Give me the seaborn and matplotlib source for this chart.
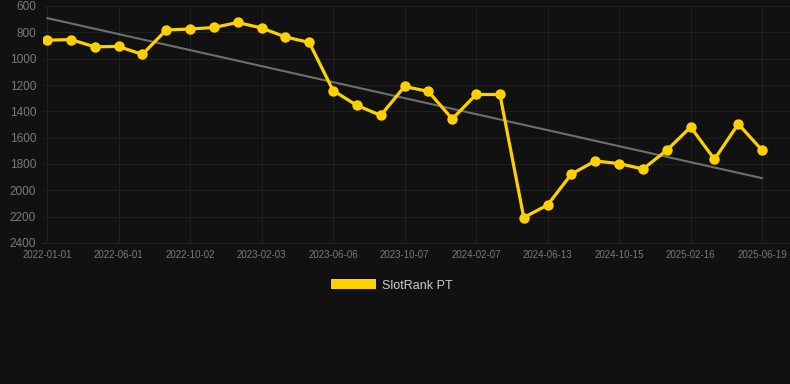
import numpy as np
import pandas as pd
import seaborn as sns
import matplotlib.pyplot as plt
from matplotlib.patches import Patch

# --- data ---
dates = ['2022-01-01', '2022-02-20', '2022-04-11', '2022-06-01', '2022-07-12', '2022-08-22',
         '2022-10-02', '2022-11-13', '2022-12-24', '2023-02-03', '2023-03-16', '2023-04-26',
         '2023-06-06', '2023-07-17', '2023-08-27', '2023-10-07', '2023-11-17', '2023-12-28',
         '2024-02-07', '2024-03-19', '2024-05-02', '2024-06-13', '2024-07-24', '2024-09-04',
         '2024-10-15', '2024-11-25', '2025-01-06', '2025-02-16', '2025-03-29', '2025-05-09',
         '2025-06-19']
rank = [860, 855, 910, 907, 968, 782, 775, 763, 725, 767, 835, 877,
        1242, 1355, 1431, 1211, 1249, 1458, 1272, 1272, 2207, 2111, 1876,
        1777, 1797, 1838, 1696, 1519, 1764, 1496, 1696]
series_name = 'SlotRank PT'

df = pd.DataFrame({'date': dates, 'rank': rank})
df['idx'] = np.arange(len(df))

# trend line (least squares)
slope, icpt = np.polyfit(df['idx'], df['rank'], 1)
df['trend'] = icpt + slope * df['idx']

bg = '#111111'
gold = '#FFD000'

sns.set_style('dark', {'axes.facecolor': bg, 'figure.facecolor': bg})
plt.rcParams['font.family'] = ['Liberation Sans', 'DejaVu Sans']

fig = plt.figure(figsize=(7.9, 3.84), dpi=100)
ax = fig.add_axes([43 / 790, 1 - 243 / 384, 747 / 790, 237 / 384])
ax.set_facecolor(bg)

sns.lineplot(data=df, x='idx', y='trend', color='#6e6e6e', lw=1.5, ax=ax)
sns.lineplot(data=df, x='idx', y='rank', color=gold, lw=2.3, marker='o',
             markersize=7.5, markeredgewidth=0, ax=ax)

ax.set_ylim(2400, 600)
ax.set_xlim(-0.17, 31.17)
ax.set_yticks(range(600, 2401, 200))
ticks = df['idx'][::3]
ax.set_xticks(ticks)
ax.set_xticklabels(df['date'][::3])

ax.grid(True, color='#1f1f1f', lw=0.8)
ax.tick_params(axis='y', colors='#7a7a7a', labelsize=8.5, length=0, pad=5)
ax.tick_params(axis='x', colors='#7a7a7a', labelsize=7, length=0, pad=5)
for s in ['top', 'right', 'left']:
    ax.spines[s].set_visible(False)
ax.spines['bottom'].set_color('#242424')
ax.set_xlabel('')
ax.set_ylabel('')

fig.legend(handles=[Patch(facecolor=gold, edgecolor='none', label=series_name)],
           loc='center', bbox_to_anchor=(392 / 790, 1 - 285.5 / 384), frameon=False,
           fontsize=9, labelcolor='#cccccc', handlelength=3.6, handleheight=0.85,
           handletextpad=0.5)

fig.savefig('out.png', dpi=100, facecolor=bg)
